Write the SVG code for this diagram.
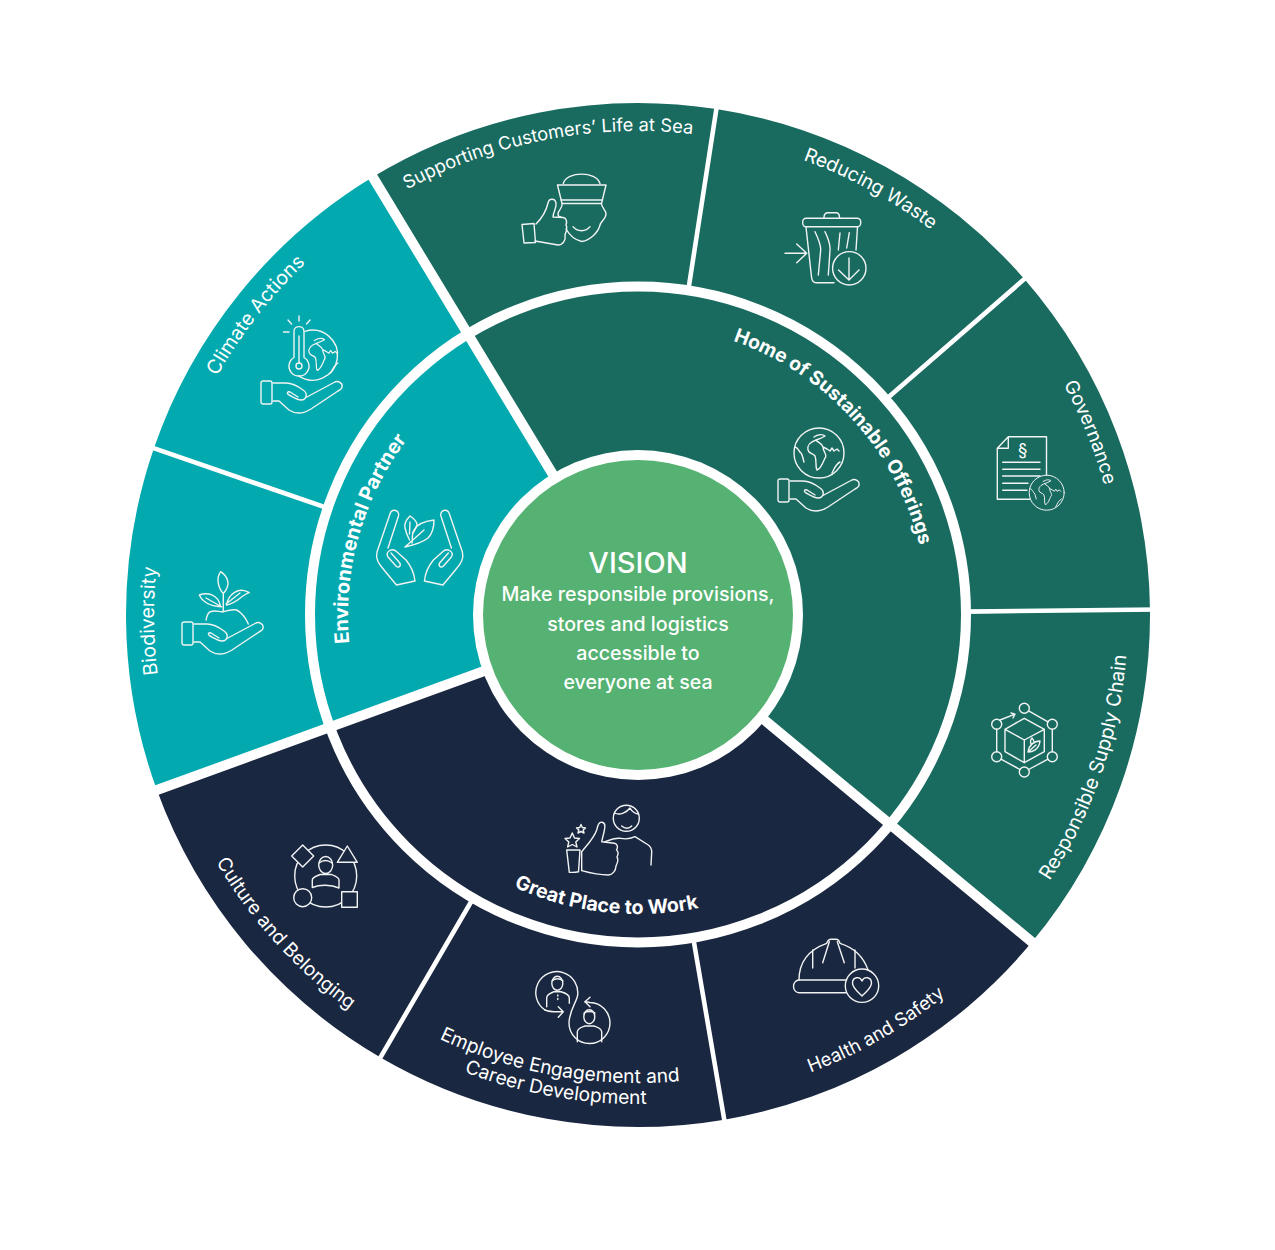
<svg xmlns="http://www.w3.org/2000/svg" width="1275" height="1250" viewBox="0 0 1275 1250">
<style>
text{font-family:"Inter","Liberation Sans",sans-serif;fill:#fff}
.lab{font-size:18.5px;font-weight:400;text-anchor:middle}
.main{font-size:19px;font-weight:700;text-anchor:middle}
.ctr{text-anchor:middle;font-size:19.6px;font-weight:500}
.ic{fill:none;stroke:#f2f4f4;stroke-width:1.4;stroke-linecap:round;stroke-linejoin:round}
.dg{fill:#196b60}.tl{fill:#02a9ae}.nv{fill:#1a2740}
.thick{stroke:#fff;stroke-width:10;fill:none}
.thin{stroke:#fff;stroke-width:4.6;fill:none}
</style>
<defs>
<path id="cw288" d="M350 615A288 288 0 0 1 926 615"/>
<path id="cw290" d="M348 615A290 290 0 0 1 928 615"/>
<path id="cw484" d="M154 615A484 484 0 0 1 1122 615"/>
<path id="ccw299" d="M339 615A299 299 0 0 0 937 615"/>
<path id="ccw490" d="M148 615A490 490 0 0 0 1128 615"/>
<path id="ccw468" d="M170 615A468 468 0 0 0 1106 615"/>
<path id="ccw489" d="M149 615A489 489 0 0 0 1127 615"/>
<g id="hand" class="ic"><rect x="0" y="0" width="11" height="23" rx="2"/><path d="M12 2H25C32 2 38 6 42 9C47 12 46 19 40 19C36 19 30 15 28 14C25 12 27 10 29 11L37 16M44 17L73 1.5C77-1 82 2 81 6C81 8 79 9 77 10L50 28C42 33 34 33 28 29L18 20H12"/></g>
<g id="land" class="ic"><path d="M-5-16C-1-19 4-19 6-17C3-15 0-14-3-13C-1-10 3-10 4-6L8-4L11-2L13-5L15-2L18-4L20-2M-3-13C-9-11-12-7-11-3C-10 1-6 0-4 3C-2 8-4 14-2 17C2 16 4 9 6 5C9 2 4-1 4-6M21 9C17 11 15 16 13 20"/></g>
<g id="globe" class="ic"><circle r="25"/><use href="#land"/><path d="M-24-6C-20-5-21-2-18 0C-16 3-16 6-15 9"/></g>
</defs>

<g id="node-supporting-customers">
<path class="dg" d="M468.1 334.4L372.8 177A512 512 0 0 1 716.3 109L688.2 290.9A328 328 0 0 0 468.1 334.4Z"/>
<text class="lab" style="font-size:18.3px" transform="rotate(-11 638 615)"><textPath href="#cw484" startOffset="50%">Supporting Customers’ Life at Sea</textPath></text>
<g class="ic"><path d="M563.3 183.5C567 171 596 171 600 183.5"/><path d="M557.5 185H606L601.5 203.5H562Z"/><path d="M561 200H602.5"/><path d="M601.5 204C602 208 606 210 606 214C606 219 601 221 600 225C598 233 590 240 581.7 241.5C575 240 570 236 566 229"/><path d="M562 204C563 208 558 210 558 214C558 216 559 217 561 217"/><path d="M573 226.7C577 232 586 232 590 226.7"/><path d="M522 224.5L534 223.5L535.5 242.5L524 243Z"/><path d="M536 224C541 219 546 212 548 203C549 198 555 198 556 203C557 208 553 212 553 217L563 217.5C567 218 567 222 566 225C568 228 566 232 565 235C566 240 563 245 558 245L535 241"/></g>
</g>

<g id="node-reducing-waste">
<path class="dg" d="M688.2 290.9L716.3 109A512 512 0 0 1 1024.4 279.1L885.5 399.8A328 328 0 0 0 688.2 290.9Z"/>
<text class="lab" style="font-size:19.2px" transform="rotate(28.6 638 615)"><textPath href="#cw484" startOffset="50%">Reducing Waste</textPath></text>
<g class="ic"><rect x="802.7" y="218.3" width="58" height="8.4" rx="3.5"/><path d="M824 217.5C824 213 826 212.7 828 212.7H836C838 212.7 839.5 214 839.5 217.5"/><path d="M806 227L811.5 277C812 281 813 282.7 816 282.7H834M857.5 227L856 250"/><path d="M815 231.7C818 238 821 245 820.7 250L818.3 275M825 231.7C828 238 830.5 245 830 250L828.3 275M840 233L838.3 250M849.3 232.7L846.7 248"/><circle cx="849.3" cy="268.3" r="16.7"/><path d="M849 258V279.5M838.5 270L849 280L859 270"/><path d="M785 253.3H806.5M796.7 244L806.7 253.3L796.7 262.7"/></g>
</g>

<g id="node-governance">
<path class="dg" d="M885.5 399.8L1024.4 279.1A512 512 0 0 1 1150 609.6L966 611.6A328 328 0 0 0 885.5 399.8Z"/>
<text class="lab" style="font-size:19px" transform="rotate(68 638 615)"><textPath href="#cw484" startOffset="50%">Governance</textPath></text>
<g class="ic"><path d="M1030 499.3H997.3V448.3L1008.3 436.7H1046.5V475M1008.3 436.7V448.3H997.3"/><path d="M1002.7 462.3H1040M1002.7 469.3H1040M1002.7 476H1040M1002.7 483.3H1028M1002.7 490.3H1027"/></g>
<text x="1022.7" y="456" style="font-size:17px;text-anchor:middle">§</text>
<use href="#globe" transform="translate(1046.7 492.7) scale(.7)" style="stroke-width:2"/>
</g>

<g id="node-responsible-supply-chain">
<path class="dg" d="M966 611.6L1150 609.6A512 512 0 0 1 1031.9 942.1L890.4 824.5A328 328 0 0 0 966 611.6Z"/>
<text class="lab" style="font-size:19.6px" transform="rotate(-71.2 638 615)"><textPath href="#ccw490" startOffset="50%">Responsible Supply Chain</textPath></text>
<g class="ic"><circle cx="1024.3" cy="708.3" r="5"/><circle cx="1052.3" cy="724.3" r="5"/><circle cx="1052.3" cy="756.7" r="5"/><circle cx="1024.3" cy="772" r="5"/><circle cx="996.7" cy="756.7" r="5"/><circle cx="996.7" cy="724.3" r="5"/><path d="M1028.6 710.8L1048 721.8M1052.3 729.3V751.7M1048 759.2L1028.6 769.5M1020 769.5L1001 759.2M996.7 751.7V729.3M1000 720L1015 714.2M1011 713L1015 714.2L1013 718"/><path d="M1024.3 718.3L1044.3 729.3V751.7L1024.3 762.7L1005 751.7V729.3ZM1005 729.3L1024.3 740L1044.3 729.3M1024.3 740V762.7"/><path d="M1028 752C1032 752 1039 750 1040 741C1034 741 1029 745 1028 752ZM1028 752L1036 745M1031 744C1030 741 1031 739 1032 738C1034 740 1034 742 1034 743"/></g>
</g>

<g id="node-health-and-safety">
<path class="nv" d="M890.4 824.5L1031.9 942.1A512 512 0 0 1 724.3 1119.7L693.3 938.3A328 328 0 0 0 890.4 824.5Z"/>
<text class="lab" transform="rotate(-29.8 638 615)"><textPath href="#ccw489" startOffset="50%">Health and Safety</textPath></text>
<g class="ic"><path d="M799 980C799 962 808 950 826.7 943.3C828 940 829 939.3 831 939.3H836C838 939.3 839 940 840 943.3C855 948 864 958 868 970"/><path d="M846.7 980H799C796 980 793.5 983 793.5 986.3C793.5 990 796 992.7 799 992.7H846"/><path d="M812.7 950V968M829.3 941.7L822.7 962.7M837.3 941.7L844.3 962.7M855 950V968"/><circle cx="862" cy="985.7" r="16.7"/><path d="M862 996C858 992 852.5 988 852.5 983C852.5 976.5 860 976 862 981C864 976 871.5 976.5 871.5 983C871.5 988 866 992 862 996Z"/></g>
</g>

<g id="node-employee-engagement">
<path class="nv" d="M693.3 938.3L724.3 1119.7A512 512 0 0 1 380.5 1057.5L473 898.5A328 328 0 0 0 693.3 938.3Z"/>
<text class="lab" style="font-size:19.2px" transform="rotate(10 638 615)"><textPath href="#ccw468" startOffset="50%">Employee Engagement and</textPath></text>
<text class="lab" style="font-size:19.2px" transform="rotate(9.9 638 615)"><textPath href="#ccw489" startOffset="50%">Career Development</textPath></text>
<g class="ic"><path d="M545 1010A21 21 0 1 1 577.5 996C576 1003 569.5 1010 569 1023A20.5 20.5 0 1 0 590 1002.5L585 1001.7"/><path d="M545 1010C549 1012 556 1012 563.3 1011.7M558.3 1006.7L563.3 1011.7L558.3 1017.3M590 997.3L585 1001.7L590 1006.7"/><ellipse cx="557.3" cy="983.3" rx="5.5" ry="7"/><path d="M546.7 1006.7V998C546.7 994 552 992.5 554 991.7H561C564 992.5 569.3 994 569.3 998V1003.3M557.8 995V996M557.8 998.5V999.5"/><path d="M552 981C555 978 560 978 563 981"/><ellipse cx="589.3" cy="1016.7" rx="5.5" ry="7"/><path d="M577.3 1041.7V1032C577.3 1028 582 1027 585 1026H594C597 1027 601.7 1028 601.7 1032V1041.7"/><path d="M584 1013C587 1011 592 1011 595 1013"/></g>
</g>

<g id="node-culture-and-belonging">
<path class="nv" d="M473 898.5L380.5 1057.5A512 512 0 0 1 156.9 790.1L329.8 727.2A328 328 0 0 0 473 898.5Z"/>
<text class="lab" style="font-size:19.1px" transform="rotate(47.9 638 615)"><textPath href="#ccw489" startOffset="50%">Culture and Belonging</textPath></text>
<g class="ic"><circle cx="325.7" cy="876" r="31"/><path class="nv" d="M302.7 845L313.7 856L302.7 867L291.7 856Z"/><path class="nv" d="M347.3 846L337.3 862.3H357.3Z"/><circle class="nv" cx="302.7" cy="897.7" r="9"/><rect class="nv" x="341.7" y="891.7" width="15.6" height="15.6"/><ellipse cx="325.7" cy="865" rx="7" ry="8.5"/><path d="M312.3 887.5V880C312.3 877 317 876 320 874.5H331.7C334 876 339 877 339 880V888C331 884.5 320 884.5 312.3 887.5ZM319 863C323 860 328 860 332 863"/></g>
</g>

<g id="node-biodiversity">
<path class="tl" d="M329.8 727.2L156.9 790.1A512 512 0 0 1 153.9 448.3L327.9 508.2A328 328 0 0 0 329.8 727.2Z"/>
<text class="lab" style="font-size:19.5px" transform="rotate(-90.7 638 615)"><textPath href="#cw484" startOffset="50%">Biodiversity</textPath></text>
<use href="#hand" x="182" y="622"/>
<g class="ic"><path d="M206 620C207 615 208 612 211 611.5C216 610 220 612.5 224 611.5C229 610 232 609 236.7 610C241 612 246 618 248.3 624"/><path d="M223.3 611.7V593.5C218 588 216 578 220.7 571.7C227 576 232 584 223.3 593.5"/><path d="M220.7 606.7C211 606 203 603 199.3 595C207 592 218 594 220.7 606.7ZM206 598L222 607"/><path d="M226.5 605C228 595 238 586 249.3 592.7C241 595 238 603 226.5 605ZM240 593L226 604"/></g>
</g>

<g id="node-climate-actions">
<path class="tl" d="M327.9 508.2L153.9 448.3A512 512 0 0 1 372.8 177L468.1 334.4A328 328 0 0 0 327.9 508.2Z"/>
<text class="lab" style="font-size:19.5px" transform="rotate(-51.9 638 615)"><textPath href="#cw484" startOffset="50%">Climate Actions</textPath></text>
<use href="#hand" x="261" y="381"/>
<g class="ic"><path d="M305 331.3A25 25 0 1 1 298.3 375.7"/><path d="M294 357.5V331.5C294 325 304 325 304 331.5V357.5A10 10 0 1 1 294 357.5Z"/><circle cx="299" cy="366" r="3"/><path d="M299 363V336"/><path d="M299 316V321M288 320L291.5 324M310 320L306.5 324M283.5 332H289"/></g>
<use href="#land" transform="translate(319 355) scale(.9)" style="stroke-width:1.55"/>
</g>

<g id="node-home-of-sustainable-offerings">
<path class="dg" d="M638 615L468.1 334.4A328 328 0 0 1 890.4 824.5Z"/>
<text class="main" style="font-size:19.3px" transform="rotate(47.6 638 615)"><textPath href="#cw290" startOffset="50%">Home of Sustainable Offerings</textPath></text>
<use href="#globe" x="819" y="453"/>
<use href="#hand" x="778" y="479"/>
</g>

<g id="node-environmental-partner">
<path class="tl" d="M638 615L329.8 727.2A328 328 0 0 1 468.1 334.4Z"/>
<text class="main" style="font-size:19.8px" transform="rotate(-74.2 638 615)"><textPath href="#cw290" startOffset="50%">Environmental Partner</textPath></text>
<g class="ic"><g id="env-hand"><path d="M388 548L398.5 516C400 510 392 508 390 514L377 552C375 560 380 565 384 570L396.5 585L415 581C414 572 411 566 406 560L397 552C392 547 385 552 388 557L396 566C399 569 402 565 399 562L391 553"/></g><use href="#env-hand" transform="translate(839.4 0) scale(-1 1)"/><path d="M405 547C414 545 423 542 428 538C433 533 434 525 434 520C426 521 417 524 414 530C411 535 413 540 412 543M405 547L424 530"/><path d="M409.5 540C408 537 406 533 405 528C404 524 406 520 410 516C413 518 416 520 417 524C417 527 415 530 413 533M409.5 534L410 522"/></g>
</g>

<g id="node-great-place-to-work">
<path class="nv" d="M638 615L890.4 824.5A328 328 0 0 1 329.8 727.2Z"/>
<text class="main" style="font-size:19.6px" transform="rotate(6.4 638 615)"><textPath href="#ccw299" startOffset="50%">Great Place to Work</textPath></text>
<g class="ic"><circle cx="626.3" cy="818.3" r="13"/><path d="M614.5 813C620 816 627 812 630 808C632 812 636 814 638.5 814M621.7 826C625 829 629 829 631.7 826"/><path d="M605 841.7C612 839 616 838 620 838.3C624 839 628 840 635 836.7L648.3 845C651 847 651.7 849 651.7 852L651 865"/><path d="M581.7 851.7C588 844 594 838 596.7 830C598 824 599 822 602 822.3C606 823 605 828 604 832L601.7 841.7L614.5 843.3C618 844 618 848 616.5 850C619 852 618 855 617 857C619 860 617 864 616 866C616 871 612 875 608.3 875C600 875 590 873 581.7 870.7Z"/><path d="M566.7 850H580L578.5 871.7C575 872.5 572 872.5 569.3 872.3Z"/><path d="M572.3 833L574.5 838L579.5 838.5L575.8 842L577 847L572.3 844.5L567.6 847L568.8 842L565 838.5L570 838Z"/><path d="M581 824.5L582.3 827.5L585.5 828L583.2 830L584 833L581 831.5L578 833L578.8 830L576.5 828L579.7 827.5Z"/></g>
</g>

<g id="dividers">
<circle class="thick" cx="638" cy="614.5" r="328"/>
<path class="thick" d="M638 615L368.6 170.2M638 615L1038.1 947.2M638 615L149.4 792.8"/>
<path class="thin" d="M688.2 290.9L717.6 101.1M885.5 399.8L1030.4 273.8M966 611.6L1158 609.5M693.3 938.3L725.6 1127.6M473 898.5L376.4 1064.4M327.9 508.2L146.3 445.7"/>
</g>

<g id="node-vision">
<circle cx="638" cy="615" r="165" fill="#fff"/>
<circle cx="638" cy="615" r="155" fill="#55b272"/>
<text class="ctr" x="638" y="573" style="font-size:29px">VISION</text>
<text class="ctr" x="638" y="601">Make responsible provisions,</text>
<text class="ctr" x="638" y="631">stores and logistics</text>
<text class="ctr" x="638" y="660">accessible to</text>
<text class="ctr" x="638" y="689">everyone at sea</text>
</g>
</svg>
